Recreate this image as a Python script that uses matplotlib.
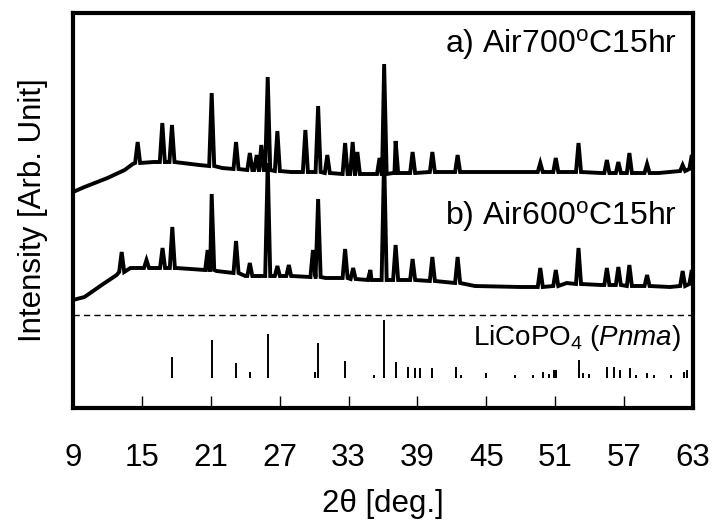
import matplotlib

matplotlib.use("Agg")
import matplotlib.pyplot as plt
import numpy as np

plt.rcParams.update(
    {
        "font.family": "Liberation Sans",
        "font.size": 22.5,
        "mathtext.fontset": "custom",
        "mathtext.rm": "Liberation Sans",
        "mathtext.it": "Liberation Sans:italic",
    }
)

# --- a) Air 700C 15hr : baseline + peaks (read off the picture) ---
a_base_x = [9, 10, 12, 13.5, 14.2, 16, 20, 22, 28, 34, 37, 45, 50, 55, 60, 63]
a_base_y = [216, 221, 230, 238, 244, 246, 243, 240, 236, 234, 235, 236, 236, 235, 235, 240]
a_peak_pos = [14.63, 16.78, 17.62, 21.08, 23.2, 24.4, 25.0, 25.4, 25.96, 26.8, 29.24, 30.35,
              31.15, 32.7, 33.36, 33.77, 35.7, 36.1, 37.1, 38.58, 40.3, 42.5, 49.7, 51.05,
              53.03, 55.5, 56.5, 57.46, 59.0, 62.1, 62.9]
a_peak_top = [266, 285, 283, 315, 266, 255, 253, 263, 331, 277, 278, 302,
              253, 265, 266, 256, 250, 344, 267, 256, 256, 253, 245, 250,
              265, 248, 246, 255, 244, 243, 253]
a_peak_foot = [245, 246, 246, 242, 239, 238, 238, 238, 238, 237, 236, 236,
               235, 234, 234, 234, 234, 234, 235, 235, 236, 236, 236, 236,
               236, 235, 235, 235, 235, 237, 239]

# --- b) Air 600C 15hr ---
b_base_x = [9, 10, 11.5, 12.8, 14, 16, 18, 21.5, 24, 28, 31, 35, 38, 44, 48, 52, 55, 58, 61, 63]
b_base_y = [108, 111, 123, 133, 140, 140, 140, 137, 132, 132, 130, 128, 128, 122, 121, 125, 123, 122, 121, 126]
b_peak_pos = [13.24, 15.4, 16.8, 17.65, 20.73, 21.08, 23.2, 24.4, 25.96, 26.8, 27.8, 29.9,
              30.35, 32.7, 33.4, 34.9, 36.1, 37.1, 38.58, 40.3, 42.5, 49.7, 51.05, 53.03,
              55.5, 56.5, 57.46, 59.0, 62.1, 62.9]
b_peak_top = [156, 148, 160, 181, 158, 214, 167, 145, 245, 142, 143, 158,
              209, 159, 140, 138, 252, 163, 149, 151, 151, 140, 138, 160,
              140, 141, 143, 133, 137, 138]
b_peak_foot = [136, 140, 140, 140, 138, 138, 135, 132, 132, 132, 132, 131,
               131, 130, 129, 128, 128, 128, 128, 127, 125, 121, 122, 124,
               123, 123, 122, 122, 122, 124]

# --- reference sticks: LiCoPO4 (Pnma) ---
ref_pos = [17.65, 21.08, 23.2, 24.4, 25.96, 30.08, 30.35, 32.7, 35.2, 36.1, 37.1, 38.2,
           38.8, 39.2, 40.3, 42.4, 42.8, 45.0, 47.5, 49.1, 49.96, 50.5, 50.9, 51.1,
           53.05, 53.45, 53.96, 55.5, 56.1, 56.65, 57.5, 58.0, 59.0, 59.6, 61.1, 62.2,
           62.5, 62.9]
ref_top = [51, 68, 45, 36, 74, 36, 65, 47, 33, 88, 46, 41,
           40, 40, 40, 41, 33, 35, 33, 33, 36, 34, 38, 38,
           48, 35, 34, 41, 41, 38, 40, 33, 35, 33, 33, 36,
           38, 39]
ref_base = 30
sep_y = 93

hw = 0.22  # half width of a drawn peak, deg.


def trace(base_x, base_y, pos, top, foot):
    xs = list(base_x)
    ys = list(base_y)
    for p, t, f in zip(pos, top, foot):
        xs += [p - hw, p, p + hw]
        ys += [f, t, f]
    xs = np.array(xs)
    ys = np.array(ys)
    order = np.argsort(xs, kind="stable")
    return xs[order], ys[order]


fig = plt.figure(figsize=(7.15, 5.23), dpi=100)
ax = fig.add_axes([0.1021, 0.2199, 0.8671, 0.7552])

xa, ya = trace(a_base_x, a_base_y, a_peak_pos, a_peak_top, a_peak_foot)
xb, yb = trace(b_base_x, b_base_y, b_peak_pos, b_peak_top, b_peak_foot)
ax.plot(xa, ya, color="black", lw=2.8, solid_joinstyle="miter")
ax.plot(xb, yb, color="black", lw=2.8, solid_joinstyle="miter")

ax.axhline(sep_y, color="black", lw=1.0, dashes=(4.5, 3))
ax.vlines(ref_pos, ref_base, ref_top, color="black", lw=1.4)

ax.text(61.6, 355, r"a) Air700$^{\mathrm{o}}$C15hr", ha="right", va="baseline", fontsize=23)
ax.text(61.6, 183, r"b) Air600$^{\mathrm{o}}$C15hr", ha="right", va="baseline", fontsize=23)
ax.text(62.0, 63, r"LiCoPO$_4$ ($\mathit{Pnma}$)", ha="right", va="baseline", fontsize=20)

ax.set_xlim(9, 63)
ax.set_ylim(0, 395)
ax.set_xticks(np.arange(9, 64, 6))
ax.set_yticks([])
ax.tick_params(axis="x", direction="in", length=9, width=1.0, pad=25, labelsize=22.5)
for s in ax.spines.values():
    s.set_linewidth(3)

ax.set_xlabel("2θ [deg.]", fontsize=22.5, labelpad=12)
ax.set_ylabel("Intensity [Arb. Unit]", fontsize=22.5, labelpad=18)

fig.savefig("out.png", dpi=100)
